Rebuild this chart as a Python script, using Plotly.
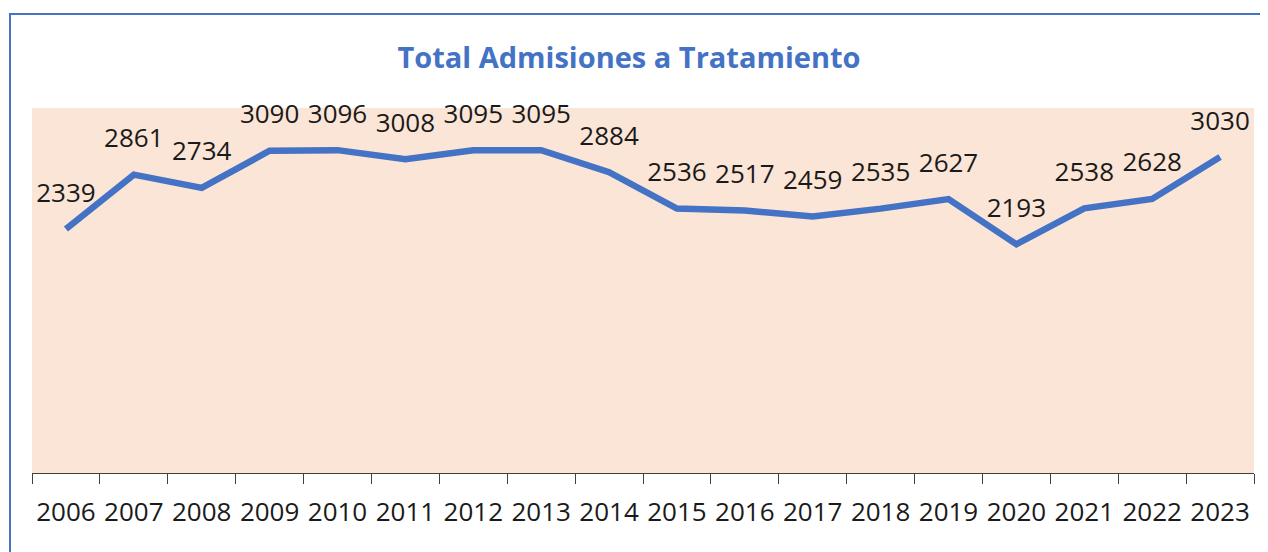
import plotly.graph_objects as go

years = ["2006", "2007", "2008", "2009", "2010", "2011", "2012", "2013", "2014",
         "2015", "2016", "2017", "2018", "2019", "2020", "2021", "2022", "2023"]
admisiones = [2339, 2861, 2734, 3090, 3096, 3008, 3095, 3095, 2884,
              2536, 2517, 2459, 2535, 2627, 2193, 2538, 2628, 3030]

W, H = 1268, 552
OFF = 8  # page body offset
ML, MR, MT, MB = 32 - OFF, 22, 108 - OFF, 87
pw, ph = W - ML - MR, H - MT - MB

FONT = "'Open Sans', Lato, sans-serif"

fig = go.Figure()
fig.add_trace(go.Scatter(
    x=years, y=admisiones,
    mode="lines+markers+text",
    line=dict(color="#4472C4", width=6.5),
    marker=dict(size=32, color="rgba(0,0,0,0)"),
    text=[str(v) for v in admisiones],
    textposition="top center",
    textfont=dict(family=FONT, size=26, color="#1a1a1a"),
    cliponaxis=False,
    hoverinfo="skip",
))

def px_x(p):
    return (p - OFF - ML) / pw

def px_y(p):
    return (H - MB - (p - OFF)) / ph

fig.add_shape(type="rect", xref="paper", yref="paper",
              x0=px_x(10), x1=px_x(1265), y0=px_y(14), y1=px_y(575),
              line=dict(color="#4472C4", width=2), layer="above")

fig.update_layout(
    width=W, height=H,
    margin=dict(l=ML, r=MR, t=MT, b=MB, autoexpand=False),
    paper_bgcolor="white",
    plot_bgcolor="#FBE5D6",
    showlegend=False,
    title=dict(text="<b>Total Admisiones a Tratamiento</b>",
               x=(629 - OFF) / W, xanchor="center", y=1 - (58 - OFF) / H, yanchor="middle",
               font=dict(family=FONT, size=29, color="#4472C4")),
    xaxis=dict(type="category", showgrid=False, zeroline=False, automargin=False,
               showline=True, linecolor="#404040", linewidth=1,
               ticks="outside", tickson="boundaries", ticklen=10, tickcolor="#404040",
               ticklabelstandoff=16, tickangle=0,
               tickfont=dict(family=FONT, size=26, color="#1a1a1a"),
               range=[-0.5, 17.5]),
    yaxis=dict(range=[0, 3500], visible=False, showgrid=False, zeroline=False),
)

fig.write_html("out.html")
